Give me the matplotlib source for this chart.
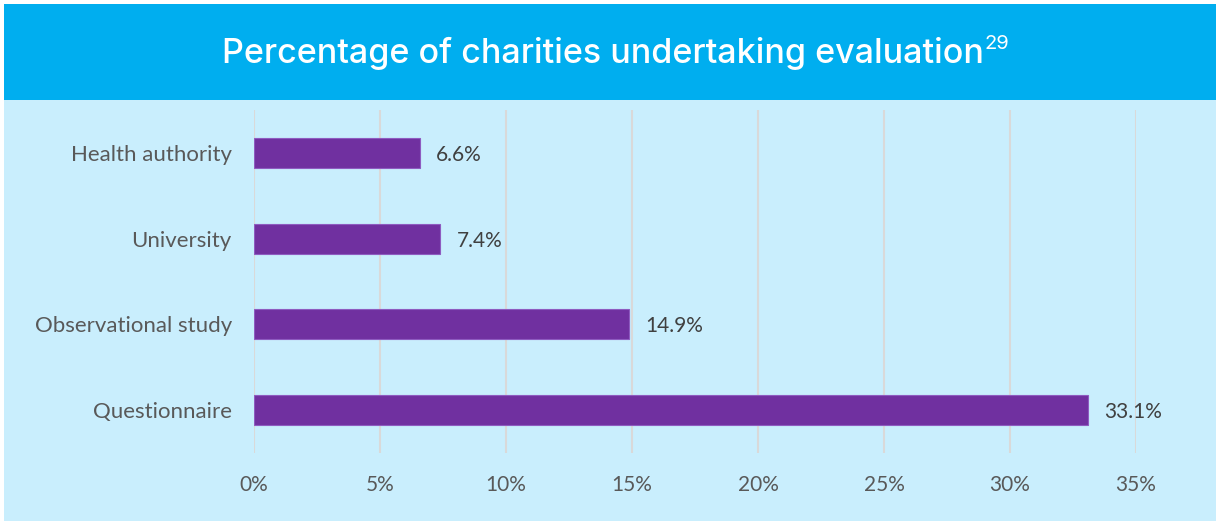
import matplotlib

matplotlib.use("Agg")

import matplotlib.pyplot as plt
from matplotlib.patches import Rectangle

categories = ["Health authority", "University", "Observational study", "Questionnaire"]
values = [6.6, 7.4, 14.9, 33.1]
xticks = [0, 5, 10, 15, 20, 25, 30, 35]
title = "Percentage of charities undertaking evaluation"
title_note = "29"

W, H = 1220, 525
plt.rcParams["font.family"] = ["Lato", "DejaVu Sans"]

fig = plt.figure(figsize=(W / 100, H / 100), dpi=100)
fig.patch.set_facecolor("white")

# header band and light panel
fig.patches.append(Rectangle((4 / W, 1 - 100 / H), 1212 / W, 96 / H,
                             transform=fig.transFigure, facecolor="#00AEEF", edgecolor="none", zorder=0))
fig.patches.append(Rectangle((4 / W, 1 - 521 / H), 1212 / W, 421 / H,
                             transform=fig.transFigure, facecolor="#C9EEFD", edgecolor="none", zorder=0))

ax = fig.add_axes([254 / W, 1 - 453 / H, 882 / W, 343 / H])
ax.set_facecolor("none")
ax.set_zorder(2)

y = list(range(len(categories)))
ax.barh(y, values, height=0.35, color="#7030A0", edgecolor="#8E5BC0", linewidth=0.8, zorder=3)
for yi, v in zip(y, values):
    ax.annotate(f"{v:.1f}%", (v, yi), xytext=(16, -2), textcoords="offset pixels",
                va="center", ha="left", fontsize=15, color="#404040")

ax.set_xlim(0, 35)
ax.set_ylim(len(categories) - 0.5, -0.5)
ax.set_xticks(xticks)
ax.set_xticklabels([f"{t}%" for t in xticks])
ax.set_yticks(y)
ax.set_yticklabels(categories)
ax.tick_params(axis="x", length=0, labelsize=15, labelcolor="#595959", pad=16)
ax.tick_params(axis="y", length=0, labelsize=16, labelcolor="#595959", pad=16)
ax.grid(axis="x", color="#D9D9D9", linewidth=1.5, zorder=0)
for s in ax.spines.values():
    s.set_visible(False)

t = fig.text(603 / W, 1 - 53 / H, title, ha="center", va="center", fontsize=24.5,
             color="white", fontweight="medium", family=["Inter", "DejaVu Sans"], zorder=3)
fig.canvas.draw()
bb = t.get_window_extent()
fig.text((bb.x1 + 1) / W, (bb.y1 - 8) / H, title_note, ha="left", va="center",
         fontsize=14.5, color="white", family=["Inter", "DejaVu Sans"], zorder=3)

fig.savefig("out.png", dpi=100)
